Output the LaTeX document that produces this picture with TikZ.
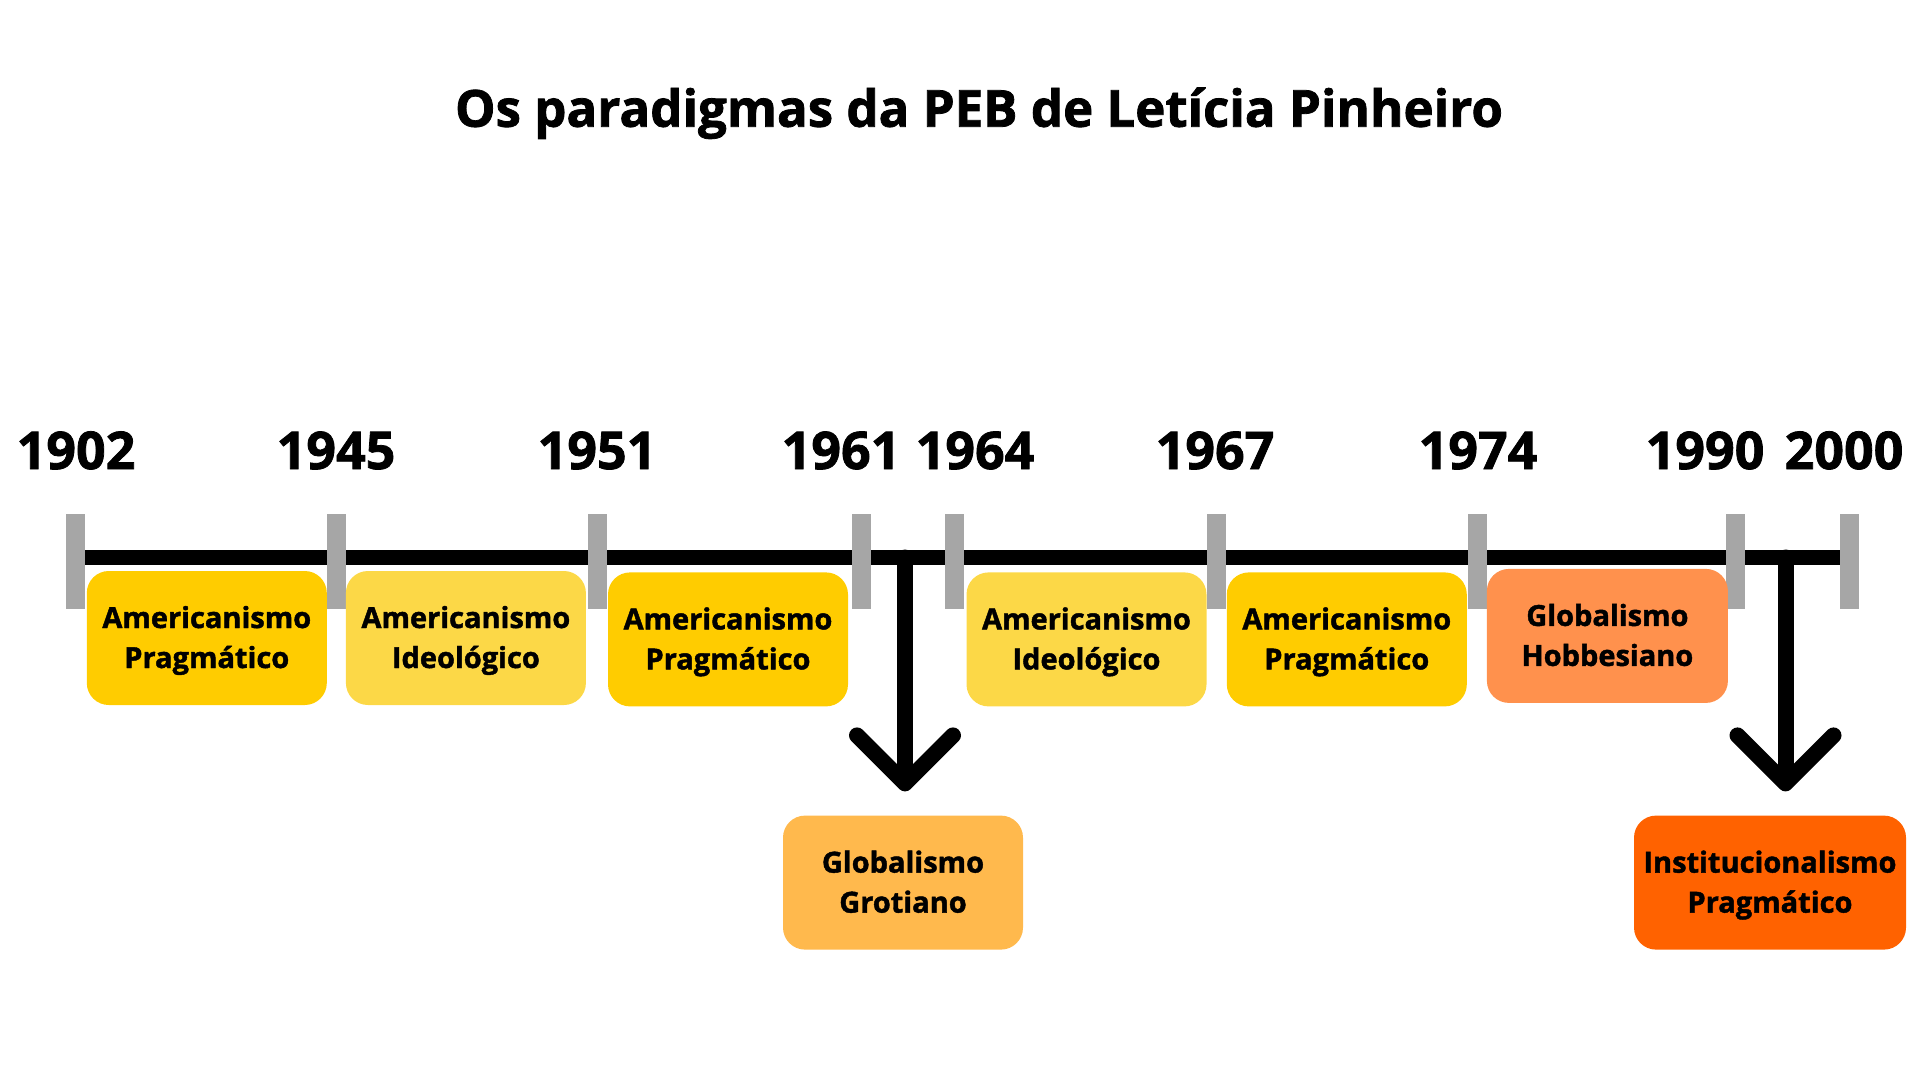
\documentclass[tikz,border=0pt]{standalone}
\usepackage{fontspec}
\setmainfont{Open Sans}[BoldFeatures={FakeBold=1.5}]
\usetikzlibrary{arrows.meta}
\definecolor{pragyellow}{HTML}{FFCC00}
\definecolor{ideoyellow}{HTML}{FCD847}
\definecolor{grotorange}{HTML}{FFB94D}
\definecolor{hobborange}{HTML}{FF914D}
\definecolor{instorange}{HTML}{FF6200}
\definecolor{tickgray}{HTML}{A6A6A6}
\begin{document}
\begin{tikzpicture}
[x=1pt, y=-1pt,
 box/.style={rounded corners=22pt, minimum width=240pt, minimum height=134pt, align=center, inner sep=0pt, text height=60pt, text depth=0pt, font=\fontsize{29}{40}\selectfont\bfseries},
 year/.style={anchor=base, font=\fontsize{52}{52}\selectfont\bfseries},
 tickbar/.style={fill=tickgray, minimum width=19pt, minimum height=95pt, inner sep=0pt},
 down/.style={line width=16pt, line cap=round, -{Straight Barb[length=48pt, width=96pt, round]}, shorten >=24pt}]
\useasboundingbox (0,0) rectangle (1920,1080);
\node [anchor=base, font=\fontsize{51}{51}\selectfont\bfseries] (title) at (979,126.7) {Os paradigmas da PEB de Letícia Pinheiro};
\coordinate (l0) at (75.5,557.5);
\coordinate (l1) at (1849,557.5);
\draw [line width=15pt] (l0) -- (l1);
\foreach \yr/\x in {1902/75.5, 1945/336, 1951/597.4, 1961/861, 1964/954.5, 1967/1216.4, 1974/1477.5, 1990/1735.5, 2000/1849}
  \node [tickbar] (t\yr) at (\x,561) {};
\foreach \yr/\x in {1902/76, 1945/336, 1951/597, 1961/841, 1964/975, 1967/1215, 1974/1478, 1990/1705, 2000/1844}
  \node [year] (y\yr) at (\x,469) {\yr};
\node [box, fill=pragyellow] (amprag1) at (206.8,638) {Americanismo\\Pragmático};
\node [box, fill=ideoyellow] (amideo1) at (465.9,638) {Americanismo\\Ideológico};
\node [box, fill=pragyellow] (amprag2) at (728,639.4) {Americanismo\\Pragmático};
\node [box, fill=ideoyellow] (amideo2) at (1086.5,639.4) {Americanismo\\Ideológico};
\node [box, fill=pragyellow] (amprag3) at (1346.8,639.4) {Americanismo\\Pragmático};
\node [box, fill=hobborange, minimum width=241pt] (globhobb) at (1607.4,635.9) {Globalismo\\Hobbesiano};
\node [box, fill=grotorange] (globgrot) at (903,882.6) {Globalismo\\Grotiano};
\node [box, fill=instorange, minimum width=272pt] (instprag) at (1770,882.6) {Institucionalismo\\Pragmático};
\coordinate (a1) at (905,557.5);
\coordinate (a2) at (1785.5,557.5);
\draw [down] (a1) -- (a1 |- globgrot.north);
\draw [down] (a2) -- (a2 |- instprag.north);
\end{tikzpicture}
\end{document}
